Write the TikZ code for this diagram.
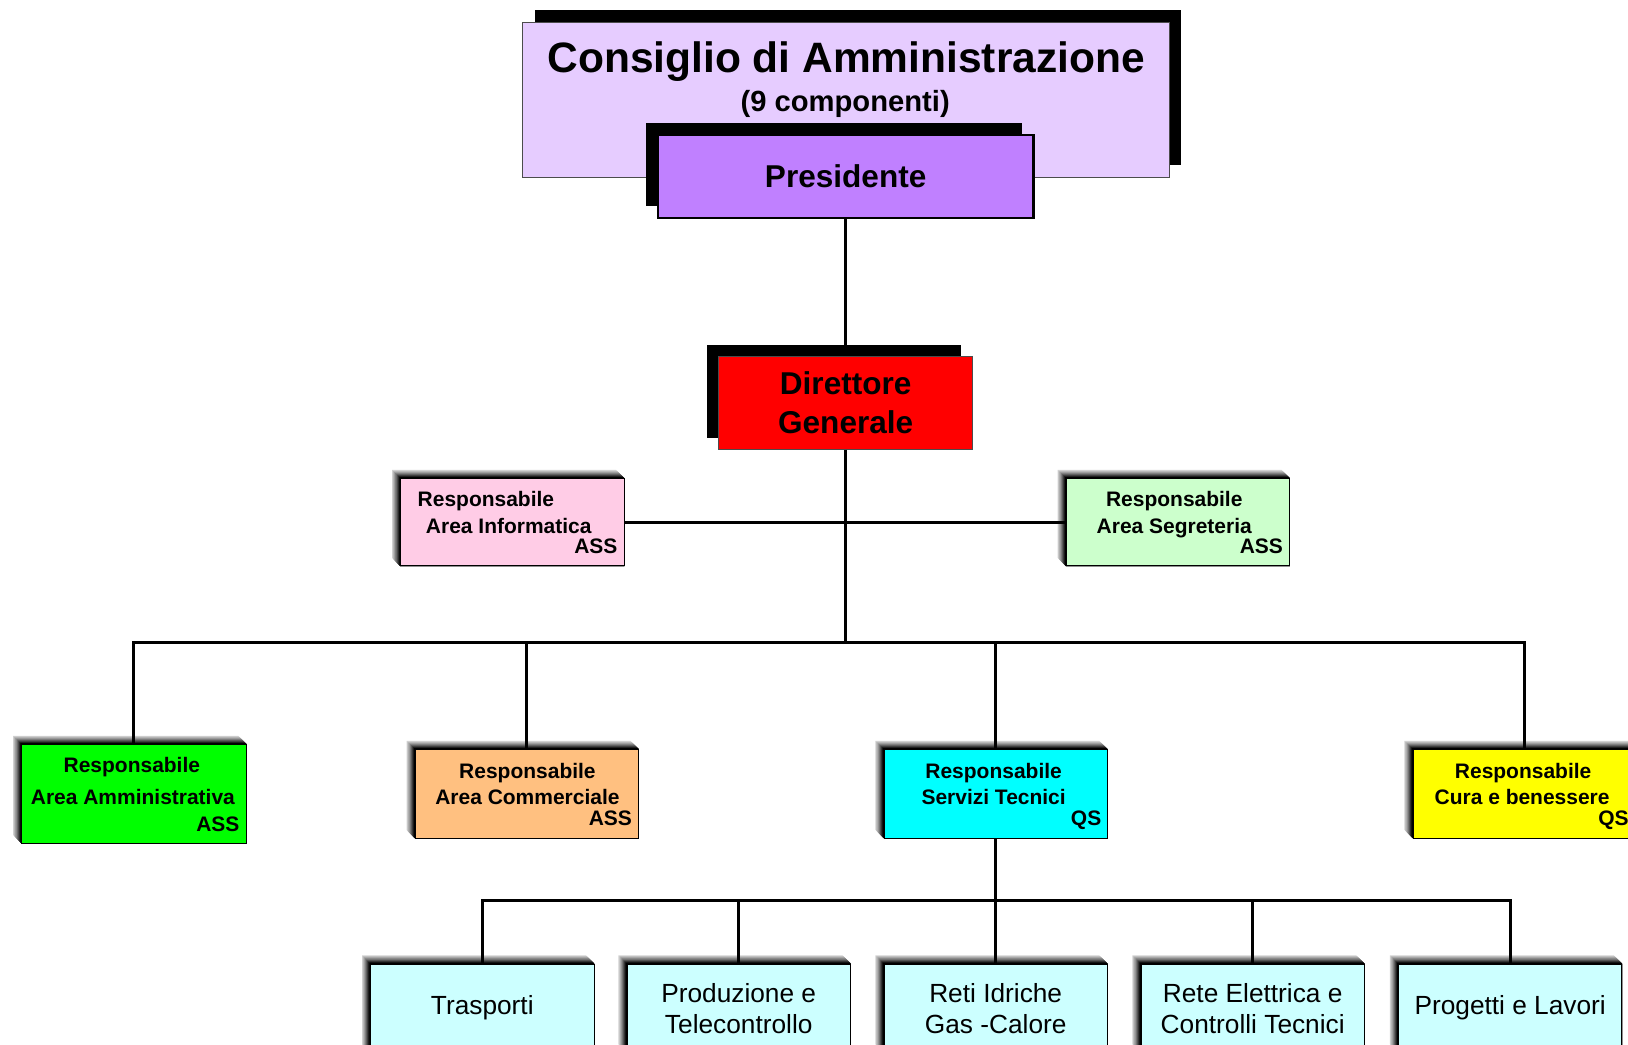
\documentclass[tikz,border=0pt]{standalone}
\usepackage{fontspec}
\setmainfont{Liberation Sans}
\usetikzlibrary{calc,shadows,backgrounds}

\definecolor{cdaviola}{HTML}{E6CCFF}
\definecolor{presviola}{HTML}{C080FF}
\definecolor{inforosa}{HTML}{FFCCE6}
\definecolor{segrverde}{HTML}{CCFFCC}
\definecolor{ammverde}{HTML}{00FF00}
\definecolor{comarancio}{HTML}{FFC080}
\definecolor{serceleste}{HTML}{00FFFF}
\definecolor{curagiallo}{HTML}{FFFF00}
\definecolor{repceleste}{HTML}{CCFFFF}

\newcommand{\bevel}[1]{%
  \begin{pgfonlayer}{background}
    \foreach \k/\col in {8/black!18,7/black!28,6/black!38,5/black!50,4/black!62,3/black!75,2/black!88,1/black} {
      \fill[\col] ($(#1.north west)+(-\k,-\k)$) -- ($(#1.north east)+(-\k,-\k)$) -- (#1.north east)
        -- (#1.south east) -- (#1.south west) -- ($(#1.south west)+(-\k,-\k)$) -- cycle;
    }
  \end{pgfonlayer}}

\begin{document}
\begin{tikzpicture}[x=0.02cm,y=-0.02cm,
        conn/.style={line width=1.7pt},
        cdabox/.style={draw=black!70,thin,fill=cdaviola,minimum width=12.46cm,minimum height=2.98cm,
            drop shadow={shadow xshift=0.24cm,shadow yshift=0.24cm,fill=black,opacity=1}},
        presbox/.style={draw=black,line width=1.4pt,fill=presviola,minimum width=7.24cm,minimum height=1.6cm,
            font=\fontsize{17.3}{21}\selectfont\bfseries,
            drop shadow={shadow xshift=-0.22cm,shadow yshift=0.24cm,fill=black,opacity=1}},
        dgbox/.style={draw=black!70,thin,fill=red,minimum width=4.9cm,minimum height=1.8cm,align=center,
            font=\fontsize{17.3}{21.5}\selectfont\bfseries,
            drop shadow={shadow xshift=-0.22cm,shadow yshift=0.22cm,fill=black,opacity=1}},
        resp/.style={draw=black,thin,minimum width=4.3cm,minimum height=1.68cm,inner sep=0pt},
        rtxt/.style={inner sep=0pt,text height=7.6pt,text depth=0pt,font=\fontsize{11.5}{14}\selectfont\bfseries},
        rep/.style={draw=black,thin,fill=repceleste,minimum width=4.3cm,minimum height=1.7cm,align=center,
            font=\fontsize{14.4}{17}\selectfont}]
                \useasboundingbox (0,0) rectangle (1568,1006);
                \clip (0,0) rectangle (1568,1006);

                \node[cdabox] (cda) at (814.5,96.5) {};
                \node[inner sep=0pt,text height=16.7pt,text depth=0pt,font=\fontsize{23.3}{28}\selectfont\bfseries] (cdat) at (815,55) {Consiglio di Amministrazione};
                \node[inner sep=0pt,text height=11.4pt,text depth=0pt,font=\fontsize{16}{19}\selectfont\bfseries] (cdas) at (814,97) {(9 componenti)};
                \node[presbox] (pres) at (814.5,170) {Presidente};
                \node[dgbox] (dg) at (814.5,388) {Direttore\\Generale};

                \node[resp,fill=inforosa] (inf) at (493.5,503) {};
                \node[resp,fill=segrverde] (seg) at (1134.5,503) {};
                \node[resp,fill=ammverde,minimum width=4.32cm,minimum height=1.9cm] (amm) at (129,764.5) {};
                \node[resp,fill=comarancio,minimum height=1.7cm] (com) at (507.5,764.5) {};
                \node[resp,fill=serceleste,minimum height=1.7cm] (ser) at (959,764.5) {};
                \node[resp,fill=curagiallo,minimum height=1.7cm] (cura) at (1468.5,764.5) {};

                \node[rtxt] (infr) at (468,481) {Responsabile};
                \node[rtxt] (infa) at (490,507) {Area Informatica};
                \node[rtxt,anchor=east] (inft) at (595,526) {ASS};
                \node[rtxt] (segr) at (1131,481) {Responsabile};
                \node[rtxt] (sega) at (1131,507) {Area Segreteria};
                \node[rtxt,anchor=east] (segt) at (1236,526) {ASS};
                \node[rtxt] (ammr) at (127,737) {Responsabile};
                \node[rtxt] (amma) at (128,768) {Area Amministrativa};
                \node[rtxt,anchor=east] (ammt) at (231,794) {ASS};
                \node[rtxt] (comr) at (508,743) {Responsabile};
                \node[rtxt] (coma) at (508,768) {Area Commerciale};
                \node[rtxt,anchor=east] (comt) at (609,788) {ASS};
                \node[rtxt] (serr) at (957,743) {Responsabile};
                \node[rtxt] (sera) at (957,768) {Servizi Tecnici};
                \node[rtxt,anchor=east] (sert) at (1061,788) {QS};
                \node[rtxt] (curar) at (1467,743) {Responsabile};
                \node[rtxt] (curaa) at (1466,768) {Cura e benessere};
                \node[rtxt,anchor=east] (curat) at (1569,788) {QS};

                \node[rep] (tra) at (464.5,971) {Trasporti};
                \node[rep] (pro) at (711.5,971) {Produzione e\\Telecontrollo};
                \node[rep] (idr) at (959,971) {Reti Idriche\\Gas -Calore};
                \node[rep] (ele) at (1206.5,971) {Rete Elettrica e\\Controlli Tecnici};
                \node[rep] (lav) at (1454.5,971) {Progetti e Lavori};

                \foreach \n in {inf,seg,amm,com,ser,cura,tra,pro,idr,ele,lav} {
                    \bevel{\n}
                }

                \coordinate (bus) at (814.5,619);
                \coordinate (sbus) at (959,867);

                \draw[conn] (pres.south) -- (dg.north);
                \draw[conn] (dg.south) -- (bus);
                \draw[conn] (inf.east) -- (seg.west);
                \draw[conn] (amm.north) |- (bus);
                \draw[conn] (com.north) |- (bus);
                \draw[conn] (ser.north) |- (bus);
                \draw[conn] (cura.north) |- (bus);
                \draw[conn] (ser.south) -- (sbus);
                \draw[conn] (tra.north) |- (sbus);
                \draw[conn] (pro.north) |- (sbus);
                \draw[conn] (idr.north) -- (sbus);
                \draw[conn] (ele.north) |- (sbus);
                \draw[conn] (lav.north) |- (sbus);
\end{tikzpicture}
\end{document}
